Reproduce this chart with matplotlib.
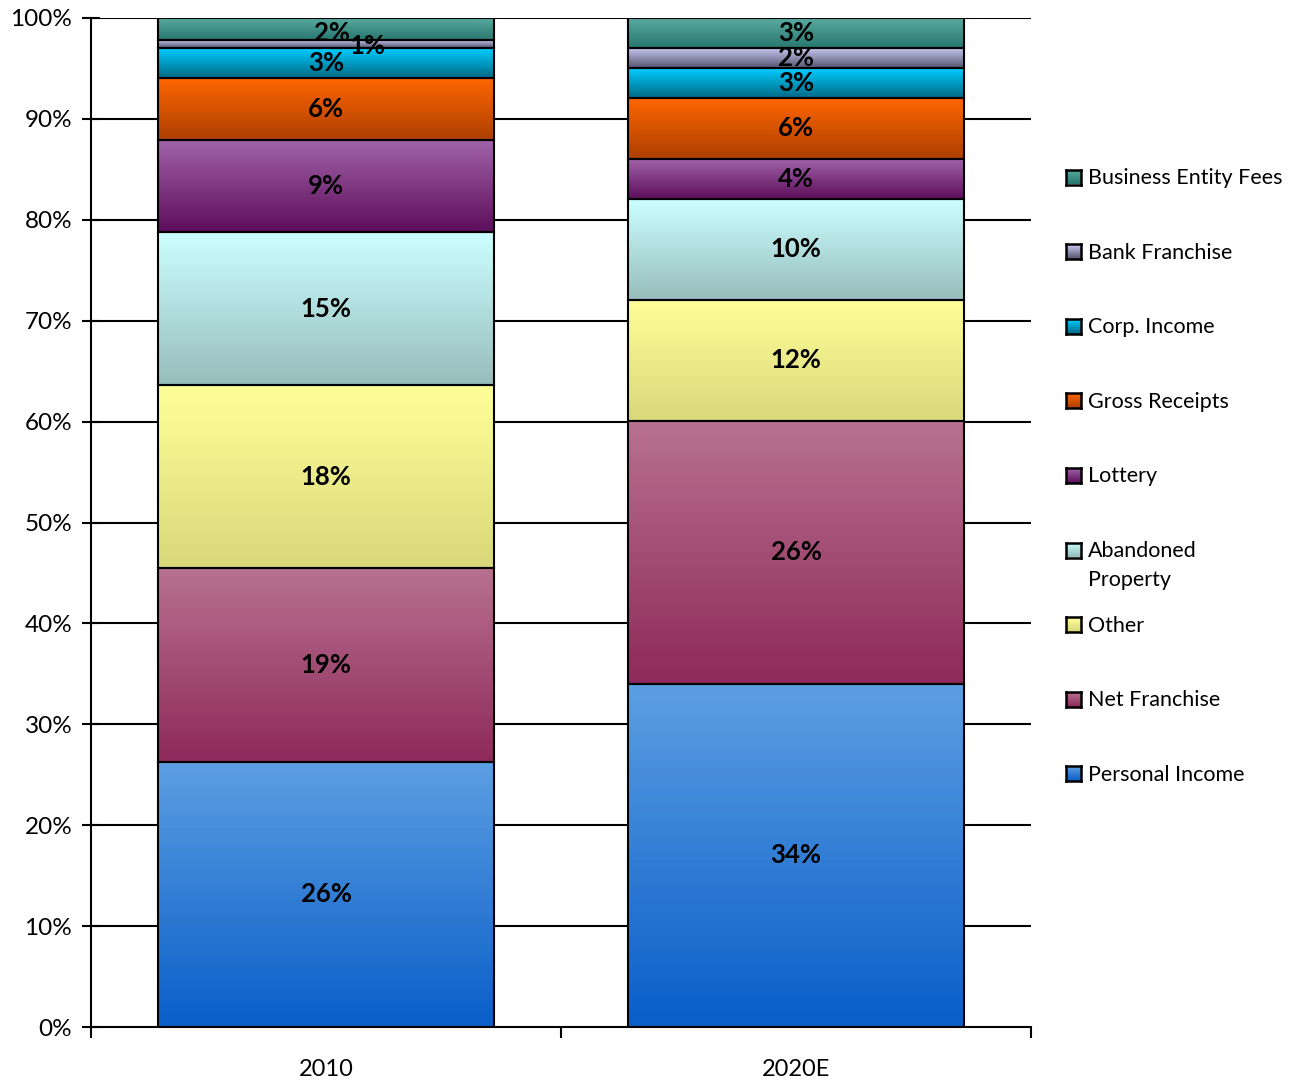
import numpy as np
import matplotlib.pyplot as plt
from matplotlib.colors import LinearSegmentedColormap

plt.rcParams['font.family'] = ['Lato', 'DejaVu Sans']

# 데이터 (% 단위, 아래에서 위로 쌓는 순서)
years = ['2010', '2020E']
series = ['Personal Income', 'Net Franchise', 'Other', 'Abandoned\nProperty',
          'Lottery', 'Gross Receipts', 'Corp. Income', 'Bank Franchise',
          'Business Entity Fees']
values_2010 = [26.3, 19.2, 18.1, 15.2, 9.1, 6.2, 2.9, 0.8, 2.2]
values_2020 = [34.0, 26.1, 12.0, 10.0, 3.9, 6.1, 2.9, 2.0, 3.0]
labels_2010 = ['26%', '19%', '18%', '15%', '9%', '6%', '3%', '1%', '2%']
labels_2020 = ['34%', '26%', '12%', '10%', '4%', '6%', '3%', '2%', '3%']

# 그라데이션 색 (위, 아래)
grad = [('#5c9ee2', '#0a5fc9'),
        ('#b8718f', '#8e2a5b'),
        ('#ffff99', '#d8d87a'),
        ('#ccffff', '#98bdbd'),
        ('#a062a8', '#5e0e5c'),
        ('#ff6600', '#ad4000'),
        ('#00ccff', '#006a86'),
        ('#cbcbf7', '#55556e'),
        ('#5aaba2', '#287870')]

fig = plt.figure(figsize=(12.96, 10.84), dpi=100)
ax = fig.add_axes([91/1296, 57/1084, 940/1296, 1009/1084])

width = 0.713
data = [values_2010, values_2020]
labs = [labels_2010, labels_2020]
# 2010 작은 값 라벨 겹침 보정 (points)
offsets = {(0, 8): (4, -3), (0, 7): (30, -1)}

for yi in range(len(years)):
    bottom = 0
    for si, v in enumerate(data[yi]):
        top_c, bot_c = grad[si]
        cmap = LinearSegmentedColormap.from_list('g', [bot_c, top_c])
        g = np.linspace(0, 1, 64).reshape(-1, 1)
        ax.imshow(g, cmap=cmap, origin='lower', aspect='auto', zorder=2,
                  extent=[yi - width/2, yi + width/2, bottom, bottom + v])
        ax.bar(yi, v, width, bottom=bottom, facecolor='none',
               edgecolor='black', linewidth=1.5, zorder=3)
        dx, dy = offsets.get((yi, si), (0, 0))
        ax.annotate(labs[yi][si], (yi, bottom + v/2), xytext=(dx, dy),
                    textcoords='offset points', ha='center', va='center',
                    fontsize=18.5, fontweight='bold', zorder=4)
        bottom += v

ax.set_xlim(-0.5, 1.5)
ax.set_ylim(0, 100)
for y in range(10, 101, 10):
    ax.axhline(y, color='black', linewidth=1.5, zorder=1)

ax.set_yticks(range(0, 101, 10))
ax.set_yticklabels([f'{y}%' for y in range(0, 101, 10)])
ax.set_xticks([-0.5, 0.5, 1.5])
ax.set_xticklabels([])
ax.set_xticks([0, 1], minor=True)
ax.set_xticklabels(years, minor=True)
ax.tick_params(axis='x', which='minor', length=0, pad=23, labelsize=17)
ax.tick_params(axis='x', which='major', length=8, width=1.5, direction='out')
ax.tick_params(axis='y', length=13, width=1.5, direction='inout',
               labelsize=17.5, pad=7)
ax.spines['top'].set_visible(False)
ax.spines['right'].set_visible(False)
for s in ['left', 'bottom']:
    ax.spines[s].set_linewidth(1.5)
    ax.spines[s].set_zorder(5)

# 범례 (직접 그림)
for i, si in enumerate(range(len(series) - 1, -1, -1)):
    yc = 1 - (177 + i * 74.6) / 1084
    top_c, bot_c = grad[si]
    cmap = LinearSegmentedColormap.from_list('g', [bot_c, top_c])
    lax = fig.add_axes([1066/1296, yc - 7.5/1084, 15/1296, 15/1084])
    lax.imshow(np.linspace(0, 1, 16).reshape(-1, 1), cmap=cmap,
               origin='lower', aspect='auto')
    lax.set_xticks([])
    lax.set_yticks([])
    for s in lax.spines.values():
        s.set_linewidth(1.8)
    fig.text(1088/1296, yc + 9/1084, series[si], ha='left', va='top',
             fontsize=15.5, linespacing=1.55)

plt.savefig('out.png', dpi=100)
